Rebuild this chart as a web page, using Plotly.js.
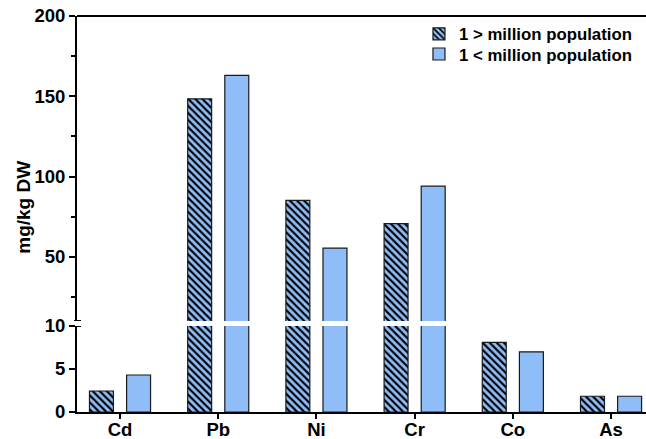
<!DOCTYPE html>
<html>
<head>
<meta charset="utf-8">
<script src="https://cdn.plot.ly/plotly-3.0.1.min.js"></script>
<style>html,body{margin:0;padding:0;background:#fff;}#chart{width:646px;height:439px;}</style>
</head>
<body>
<div id="chart"></div>
<script>
var categories = ['Cd', 'Pb', 'Ni', 'Cr', 'Co', 'As'];
var seriesNames = ['1 > million population', '1 < million population'];
var overMillion = [2.44, 148.4, 85.2, 70.7, 8.1, 1.83];
var underMillion = [4.3, 163.0, 55.4, 94.0, 7.0, 1.83];
var lowerTicks = [0, 5, 10];
var upperTicks = [50, 100, 150, 200];
var upperMinorTicks = [25, 75, 125, 175];

var BLUE = '#8EBDF7';
var OUTLINE = '#1a1a1a';
var FONT = 'Liberation Sans, Arial, sans-serif';

function makeTrace(values, name, hatched, yaxis, legendId) {
  var marker = {color: BLUE, line: {color: OUTLINE, width: 1.2}};
  if (hatched) {
    marker.pattern = {shape: '\\', fgcolor: '#000000', bgcolor: BLUE, size: 5, solidity: 0.42};
  }
  var t = {
    type: 'bar', x: categories, y: values, name: name,
    xaxis: 'x', yaxis: yaxis, marker: marker,
    width: 0.244, offset: hatched ? -0.311 : 0.067,
    showlegend: !!legendId, legendgroup: name, hoverinfo: 'skip'
  };
  if (legendId) t.legend = legendId;
  return t;
}

var data = [
  makeTrace(overMillion, seriesNames[0], true, 'y2', 'legend'),
  makeTrace(underMillion, seriesNames[1], false, 'y2', 'legend2'),
  makeTrace(overMillion, seriesNames[0], true, 'y', null),
  makeTrace(underMillion, seriesNames[1], false, 'y', null)
];

var tickFont = {family: FONT, size: 18.5, color: '#000', weight: 'bold'};
var legendFont = {family: FONT, size: 16.8, color: '#000', weight: 'bold'};

var layout = {
  width: 646, height: 439,
  margin: {l: 77, r: 0, t: 16, b: 27, pad: 0},
  paper_bgcolor: '#fff', plot_bgcolor: '#fff',
  barmode: 'overlay',
  font: {family: FONT, color: '#000'},
  xaxis: {
    type: 'category', range: [-0.438, 5.356], showline: true, linecolor: '#000', linewidth: 2,
    ticks: 'outside', ticklen: 5, tickwidth: 2, tickcolor: '#000', tickfont: tickFont,
    ticklabelstandoff: -5,
    showgrid: false, zeroline: false, anchor: 'y', fixedrange: true
  },
  yaxis: {
    domain: [0, 0.2172], range: [0, 10], tickvals: lowerTicks, ticktext: lowerTicks.map(String),
    showline: true, linecolor: '#000', linewidth: 2, ticks: 'outside', ticklen: 6, tickwidth: 2,
    tickcolor: '#000', tickfont: tickFont, showgrid: false, zeroline: false, anchor: 'x'
  },
  yaxis2: {
    domain: [0.2298, 1], range: [10, 200], tickvals: upperTicks, ticktext: upperTicks.map(String),
    showline: true, linecolor: '#000', linewidth: 2, ticks: 'outside', ticklen: 6, tickwidth: 2,
    tickcolor: '#000', tickfont: tickFont, showgrid: false, zeroline: false, anchor: 'x',
    minor: {tickvals: upperMinorTicks, ticks: 'outside', ticklen: 4, tickwidth: 2, tickcolor: '#000', showgrid: false}
  },
  legend: {
    x: 0.601, y: 0.999, xanchor: 'left', yanchor: 'top', bgcolor: 'rgba(0,0,0,0)',
    font: legendFont, itemclick: false
  },
  legend2: {
    x: 0.601, y: 0.948, xanchor: 'left', yanchor: 'top', bgcolor: 'rgba(0,0,0,0)',
    font: legendFont, itemclick: false
  },
  shapes: [
    {type: 'line', xref: 'paper', yref: 'paper', x0: 0, x1: 1, y0: 1, y1: 1, line: {color: '#000', width: 2}},
    {type: 'line', xref: 'paper', yref: 'y2', xsizemode: 'pixel', xanchor: 0, x0: -3, x1: 4, y0: 10, y1: 10, line: {color: '#000', width: 2}},
    {type: 'line', xref: 'paper', yref: 'y', xsizemode: 'pixel', xanchor: 0, x0: -3, x1: 4, y0: 10, y1: 10, line: {color: '#000', width: 2}}
  ],
  annotations: [
    {text: 'mg/kg DW', xref: 'paper', yref: 'paper', x: -0.093, y: 0.516, textangle: -90,
     showarrow: false, font: {family: FONT, size: 19, color: '#000', weight: 'bold'}, xanchor: 'center', yanchor: 'middle'}
  ]
};

Plotly.newPlot('chart', data, layout, {displayModeBar: false, staticPlot: true});
</script>
</body>
</html>
